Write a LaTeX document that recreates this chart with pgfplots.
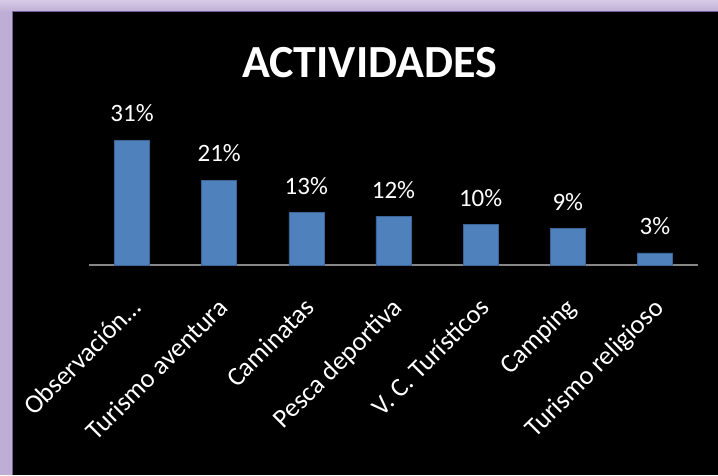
\documentclass[border=0pt]{standalone}
\usepackage{pgfplots}
\pgfplotsset{compat=1.18}
\usepackage{fontspec}
\setmainfont{Carlito}
\definecolor{barblue}{RGB}{79,129,189}
\definecolor{baredge}{RGB}{60,100,150}
\definecolor{lav}{RGB}{190,174,214}
\definecolor{lavlight}{RGB}{214,202,230}
\definecolor{lavdark}{RGB}{120,96,150}
\definecolor{axgray}{RGB}{134,134,134}
\begin{document}
\begin{tikzpicture}[x=1pt,y=1pt]
\useasboundingbox (0,0) rectangle (718,475);
\fill[lav] (0,0) rectangle (718,475);
\shade[top color=lavlight,bottom color=lav] (0,463) rectangle (718,475);
\fill[black] (12,0) rectangle (718,463);
\draw[lavdark,line width=1pt] (12,0) -- (12,463.5) -- (718,463.5);
\node[anchor=base,text=white,font=\fontsize{46}{50}\selectfont\bfseries] at (369.5,397) {ACTIVIDADES};
\begin{axis}[
  at={(88.5pt,210pt)}, anchor=south west,
  scale only axis, width=610pt, height=161.2pt,
  xmin=-0.5, xmax=6.5, ymin=0, ymax=40,
  ybar, bar width=35pt,
  hide y axis,
  axis x line=bottom,
  x axis line style={draw=axgray,line width=1.5pt,-},
  major tick length=0pt,
  xtick={0,1,2,3,4,5,6},
  xticklabels={Observación…,Turismo aventura,Caminatas,Pesca deportiva,V. C. Turísticos,Camping,Turismo religioso},
  xticklabel style={yshift=-31pt,xshift=-3pt,rotate=45,anchor=north east,inner sep=0pt,text=white,font=\fontsize{26.5}{30}\selectfont},
  /pgf/number format/assume math mode=true,
  nodes near coords={\pgfmathprintnumber{\pgfplotspointmeta}\%},
  nodes near coords style={anchor=south,inner sep=0pt,yshift=18pt,text=white,font=\fontsize{25}{29}\selectfont},
  clip=false,
]
\addplot[fill=barblue,draw=baredge,line width=0.6pt] coordinates {(0,31) (1,21) (2,13) (3,12) (4,10) (5,9) (6,3)};
\end{axis}
\end{tikzpicture}
\end{document}
